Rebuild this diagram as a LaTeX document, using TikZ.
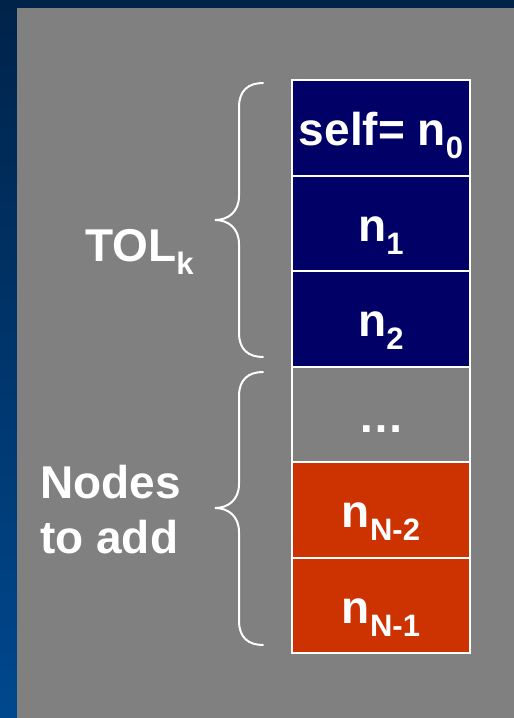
\documentclass[tikz,border=0pt]{standalone}
\usepackage{fontspec}
\setmainfont{Liberation Sans}
\definecolor{slatetop}{HTML}{00234A}
\definecolor{slatebot}{HTML}{00488E}
\definecolor{panel}{HTML}{808080}
\definecolor{navycell}{HTML}{000066}
\definecolor{rustcell}{HTML}{CC3300}
% lowered, smaller index text
\newcommand\subidx[1]{\raisebox{-13pt}{\fontsize{31}{31}\selectfont #1}}
\begin{document}
\begin{tikzpicture}[x=1pt,y=-1pt,
  txt/.style={font=\fontsize{46}{55}\selectfont\bfseries, text=white},
  cell/.style={draw=white, line width=2pt, minimum width=178pt,
    minimum height=95.5pt, inner sep=0pt, text height=36pt, text depth=0pt, txt},
  brace/.style={draw=white, line width=2pt, line cap=round}
]
\useasboundingbox (0,0) rectangle (514,718);
% slide background and grey panel
\shade[top color=slatetop, bottom color=slatebot] (0,0) rectangle (514,718);
\fill[panel] (17,8) rectangle (514,718);

% stack of cells
\node[cell, fill=navycell] (c0) at (381,127.75) {self= n\subidx{0}};
\node[cell, fill=navycell] (c1) at (381,223.25) {n\subidx{1}};
\node[cell, fill=navycell] (c2) at (381,318.75) {n\subidx{2}};
\node[cell, fill=panel]    (c3) at (381,414.25) {\dots};
\node[cell, fill=rustcell] (c4) at (381,509.75) {n\subidx{N-2}};
\node[cell, fill=rustcell] (c5) at (381,605.25) {n\subidx{N-1}};

% group labels
\node[txt, anchor=base west, inner sep=0pt] (tol) at (85,261) {TOL\subidx{k}};
\node[txt, anchor=base west, inner sep=0pt] (add1) at (40,498) {Nodes};
\node[txt, anchor=base west, inner sep=0pt] (add2) at (40,553) {to add};

% curly braces
\draw[brace] (263,83) .. controls (249,83) and (239,90) .. (239,107)
  -- (239,196) .. controls (239,212) and (228,220) .. (215,220)
  .. controls (228,220) and (239,228) .. (239,244)
  -- (239,333) .. controls (239,350) and (249,357) .. (263,357);
\draw[brace] (263,372) .. controls (249,372) and (239,379) .. (239,396)
  -- (239,484) .. controls (239,500) and (228,508) .. (215,508)
  .. controls (228,508) and (239,516) .. (239,532)
  -- (239,621) .. controls (239,638) and (249,645) .. (263,645);
\end{tikzpicture}
\end{document}
